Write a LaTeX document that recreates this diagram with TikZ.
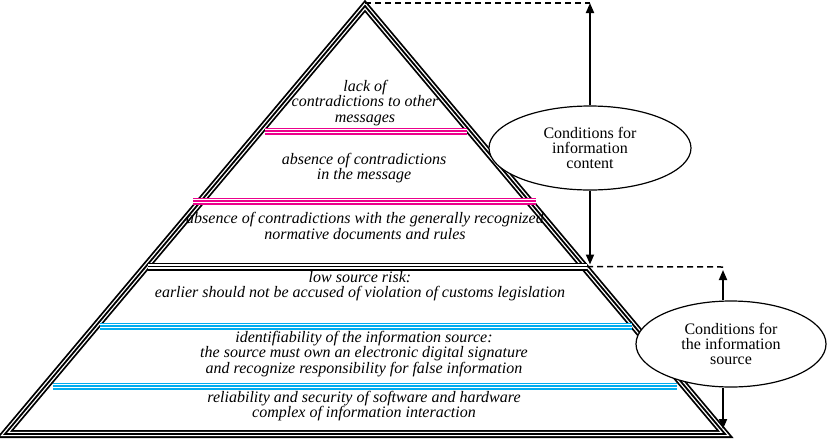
\documentclass[tikz,border=0pt]{standalone}
\usepackage{fontspec}
\setmainfont{Liberation Serif}
\usetikzlibrary{arrows.meta, positioning, calc, shapes.geometric}

\begin{document}
\begin{tikzpicture}[x=1pt, y=-1pt,
  frame/.style={line width=8pt, draw=black, line join=miter,
    postaction={draw=white, line width=4.4pt},
    postaction={draw=black, line width=1.8pt}},
  band/.style={line width=7pt, draw=#1,
    postaction={draw=white, line width=4pt},
    postaction={draw=#1, line width=1.6pt}},
  level/.style={font=\fontsize{16}{15.2}\selectfont\itshape, align=center,
    inner sep=0pt},
  cond/.style={ellipse, draw, line width=1.2pt, fill=white, inner sep=0pt,
    font=\fontsize{16}{15}\selectfont, align=center},
  arr/.style={-{Triangle[length=10pt, width=8pt]}, line width=1.8pt},
  guide/.style={line width=1.5pt, dash pattern=on 6pt off 4pt},
]
\useasboundingbox (0,0) rectangle (827,440);

% pyramid outline
\coordinate (apex) at (365,6);
\coordinate (bl) at (5,434);
\coordinate (br) at (725,434);
\draw[frame] (apex) -- (bl) -- (br) -- cycle;

% level separators
\draw[band=magenta] (265,131) -- (467,131);
\draw[band=magenta] (193,201) -- (536,201);
\coordinate (divL) at (148,266.5);
\coordinate (divR) at (587,266.5);
\draw[frame] (divL) -- (divR);
\draw[band=cyan] (100,326) -- (632,326);
\draw[band=cyan] (53,386) -- (677,386);

% levels: information content
\node[level] (lackOf) at (365,103)
  {lack of\\contradictions to other\\messages};
\node[level] (inMsg) at (364,168)
  {absence of contradictions\\in the message};
\node[level] (normDocs) at (365,226)
  {absence of contradictions with the generally recognized\\normative documents and rules};

% levels: information source
\node[level] (lowRisk) at (360,286.5)
  {low source risk:\\earlier should not be accused of violation of customs legislation};
\node[level] (identSrc) at (364,354)
  {identifiability of the information source:\\the source must own an electronic digital signature\\and recognize responsibility for false information};
\node[level] (reliab) at (364,406)
  {reliability and security of software and hardware\\complex of information interaction};

% condition groups
\node[cond, minimum width=202pt, minimum height=84pt] (content) at (590,148)
  {Conditions for\\information\\content};
\node[cond, minimum width=190pt, minimum height=86pt] (source) at (731,344)
  {Conditions for\\the information\\source};

% range markers
\coordinate (ctop) at (590,3);
\coordinate (stop) at (723,267);
\coordinate (sbot) at (723,429);
\draw[guide] (apex |- ctop) -- (ctop);
\draw[guide] (divR) -- (stop);
\draw[arr] (content.north) -- (ctop);
\draw[arr, shorten >=2pt] (content.south) -- (content.south |- divR);
\draw[arr, shorten >=3pt] (source.north -| stop) -- (stop);
\draw[arr] (source.south -| stop) -- (sbot);

\end{tikzpicture}
\end{document}
